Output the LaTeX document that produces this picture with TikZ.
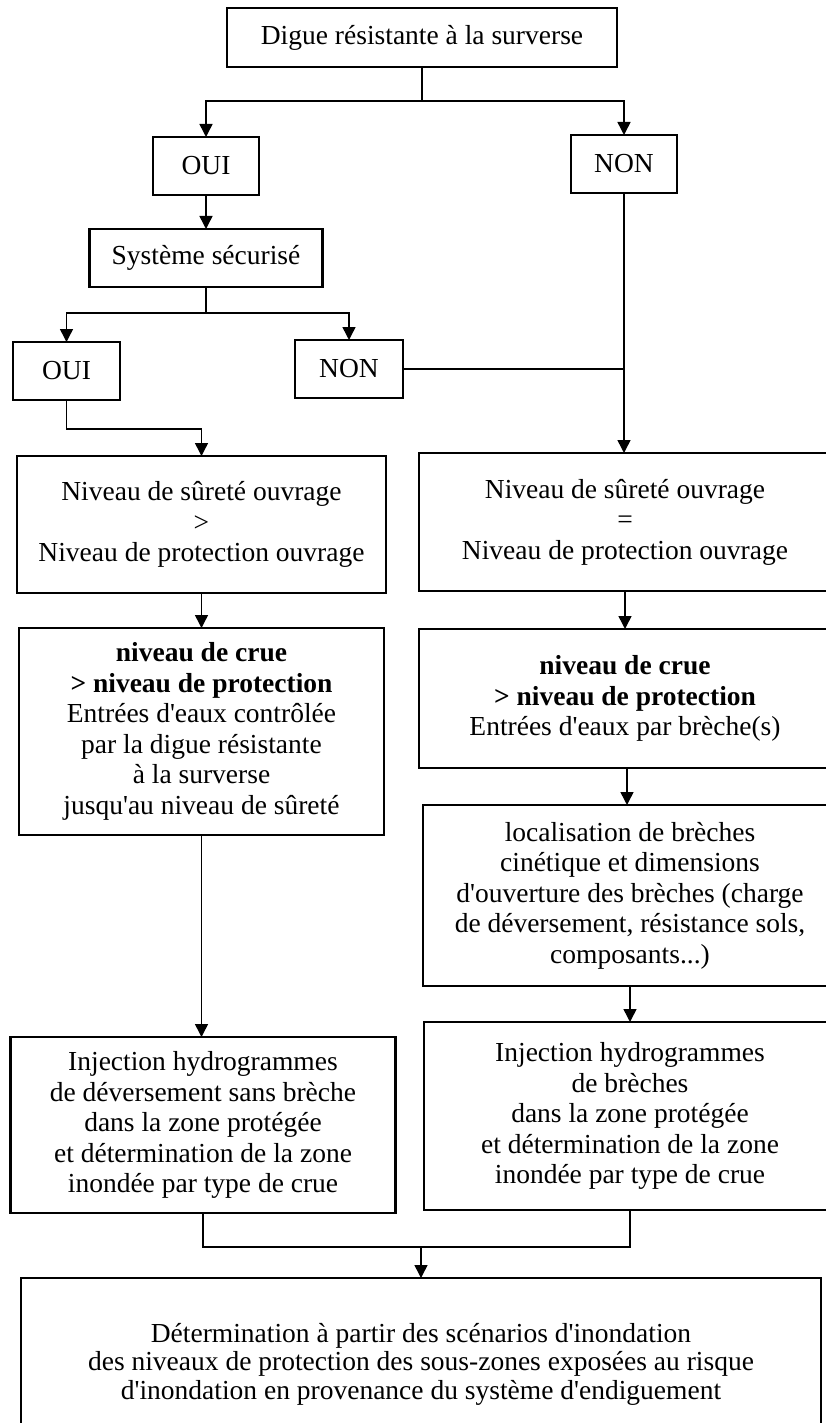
\documentclass[tikz,border=0pt]{standalone}
\usepackage{fontspec}
\setmainfont{Liberation Serif}
\usetikzlibrary{arrows.meta}
\newcommand\ap{\textquotesingle}
\tikzset{
  box/.style={draw, line width=2.2pt, inner sep=0pt, outer sep=0pt, align=center,
    font=\fontsize{27.5}{30.5}\selectfont},
  conn/.style={line width=1.5pt},
  arr/.style={conn, -{Triangle[length=13pt,width=13pt]}},
}
\begin{document}
\begin{tikzpicture}[x=1pt,y=-1pt]
\clip (0,0) rectangle (826,1423);
\fill[white] (0,0) rectangle (826,1423);

\node[box, minimum width=390pt, minimum height=59pt] (top) at (422,37.5) {Digue résistante à la surverse};
\node[box, minimum width=106pt, minimum height=58pt] (oui1) at (206,166) {OUI};
\node[box, minimum width=106pt, minimum height=58pt] (non1) at (624,164) {NON};
\node[box, minimum width=233pt, minimum height=58pt] (sys) at (206,258) {Système sécurisé};
\node[box, minimum width=107pt, minimum height=58pt] (oui2) at (66.5,371) {OUI};
\node[box, minimum width=108pt, minimum height=58pt] (non2) at (349,369) {NON};

\node[box, minimum width=369pt, minimum height=137pt] (lb1) at (201.5,524.5)
  {Niveau de sûreté ouvrage\\>\\Niveau de protection ouvrage};
\node[box, minimum width=412pt, minimum height=138pt] (rb1) at (625,522)
  {Niveau de sûreté ouvrage\\=\\Niveau de protection ouvrage};

\node[box, minimum width=365pt, minimum height=207pt] (lb2) at (201.5,731.5)
  {\textbf{niveau de crue}\\\textbf{> niveau de protection}\\Entrées d\ap eaux contrôlée\\par la digue résistante\\à la surverse\\jusqu\ap au niveau de sûreté};
\node[box, minimum width=412pt, minimum height=139pt] (rb2) at (625,698.5)
  {\textbf{niveau de crue}\\\textbf{> niveau de protection}\\Entrées d\ap eaux par brèche(s)};

\node[box, minimum width=414pt, minimum height=181pt] (rb3) at (630,895.5)
  {localisation de brèches\\cinétique et dimensions\\d\ap ouverture des brèches (charge\\de déversement, résistance sols,\\composants...)};

\node[box, minimum width=385pt, minimum height=176pt] (lb3) at (203,1125)
  {Injection hydrogrammes\\de déversement sans brèche\\dans la zone protégée\\et détermination de la zone\\inondée par type de crue};
\node[box, minimum width=412pt, minimum height=188pt] (rb4) at (630,1116)
  {Injection hydrogrammes\\de brèches\\dans la zone protégée\\et détermination de la zone\\inondée par type de crue};

\node[box, minimum width=800pt, minimum height=172pt, font=\fontsize{27.5}{28.5}\selectfont] (bot) at (421,1364)
  {Détermination à partir des scénarios d\ap inondation\\des niveaux de protection des sous-zones exposées au risque\\d\ap inondation en provenance du système d\ap endiguement};

\coordinate (j1) at (422,101);
\coordinate (j2) at (206,313);
\coordinate (j3) at (150,429);
\coordinate (j4) at (421,1247);

\draw[conn] (top.south) -- (j1);
\draw[arr] (j1) -| (oui1.north);
\draw[arr] (j1) -| (non1.north);
\draw[arr] (oui1.south) -- (sys.north);
\draw[conn] (sys.south) -- (j2);
\draw[arr] (j2) -| (oui2.north);
\draw[arr] (j2) -| (non2.north);
\draw[arr] (non1.south) -- (non1.south |- rb1.north);
\draw[conn] (non2.east) -- (non2.east -| non1.south);
\draw[arr] (oui2.south) |- (j3) -| (lb1.north);
\draw[arr] (lb1.south) -- (lb1.south |- lb2.north);
\draw[arr] (rb1.south) -- (rb2.north);
\draw[arr] (rb2.south) ++(2,0) -- (rb3.north -| 627,0);
\draw[arr] (rb3.south) -- (rb4.north);
\draw[arr] (lb2.south) -- (lb2.south |- lb3.north);
\draw[conn] (lb3.south) |- (j4);
\draw[conn] (rb4.south) |- (j4);
\draw[arr] (j4) -- (bot.north);
\end{tikzpicture}
\end{document}
